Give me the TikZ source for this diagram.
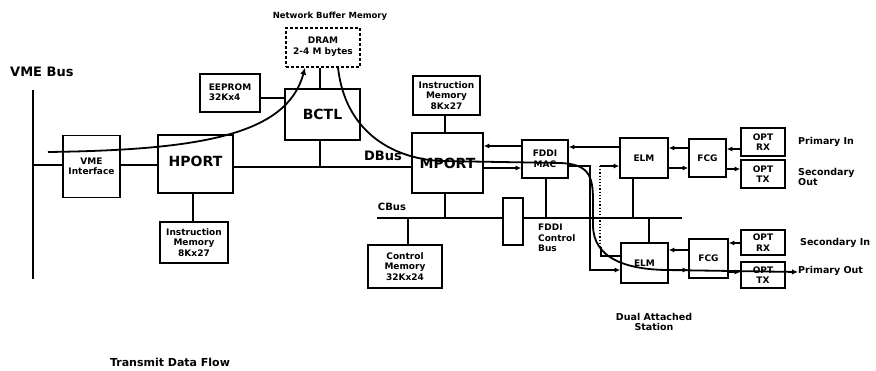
\documentclass[tikz,border=0pt]{standalone}
\usepackage{fontspec}
\setmainfont{DejaVu Sans}
\usetikzlibrary{arrows.meta}
\newcommand{\fs}[2]{\bfseries\fontsize{#1}{#2}\selectfont}
\tikzset{
  blk/.style={draw, line width=1.6pt, fill=white, inner sep=0pt, align=center, font=\fs{9}{10.5}},
  bigblk/.style={blk, font=\fs{14}{15}},
  lbl/.style={inner sep=0pt, align=left, font=\fs{9.5}{10.5}},
  ln/.style={line width=1.6pt},
  arr/.style={line width=1.6pt, -{Latex[length=5.5pt,width=5pt]}},
  flow/.style={line width=1.8pt},
}
\begin{document}
\begin{tikzpicture}[x=1pt,y=-1pt]
\useasboundingbox (0,0) rectangle (876,371);
% VME bus
\coordinate (vt) at (33,90);
\coordinate (vb) at (33,279);
\draw[ln] (vt) -- (vb);
\node[lbl, font=\fs{13}{14}, anchor=west] (vmebus) at (10,72) {VME Bus};
% blocks
\node[blk, minimum width=57pt, minimum height=62pt] (vme) at (91.5,166.5) {VME\\Interface};
\node[bigblk, minimum width=75pt, minimum height=58pt] (hport) at (195.5,164) {\raisebox{5pt}{HPORT}};
\node[bigblk, minimum width=75pt, minimum height=51pt] (bctl) at (322.5,114.5) {BCTL};
\node[blk, densely dashed, line width=1.2pt, minimum width=74pt, minimum height=39pt] (dram) at (323,47.5) {\raisebox{4pt}{\shortstack{DRAM\\[1pt]2-4 M bytes}}};
\node[lbl, font=\fs{8.5}{9}] (nbm) at (330,16) {Network Buffer Memory};
\node[blk, minimum width=60pt, minimum height=38pt] (eeprom) at (230,93) {\raisebox{1pt}{\shortstack[l]{EEPROM\\32Kx4}}};
\node[blk, minimum width=67pt, minimum height=39pt] (im1) at (446.5,95.5) {Instruction\\Memory\\8Kx27};
\node[bigblk, minimum width=71pt, minimum height=60pt] (mport) at (447.5,163) {MPORT};
\node[blk, minimum width=68pt, minimum height=41pt] (im2) at (194,242.5) {Instruction\\Memory\\8Kx27};
\node[blk, minimum width=74pt, minimum height=43pt] (cm) at (405,266.5) {Control\\Memory\\32Kx24};
\node[blk, minimum width=46pt, minimum height=38pt] (mac) at (545,159) {FDDI\\MAC};
\node[blk, minimum width=48pt, minimum height=40pt] (elm1) at (644,158) {ELM};
\node[blk, minimum width=47pt, minimum height=40pt] (elm2) at (644.5,263) {ELM};
\node[blk, minimum width=37pt, minimum height=38pt] (fcg1) at (707.5,158) {FCG};
\node[blk, minimum width=39pt, minimum height=39pt] (fcg2) at (708.5,258.5) {FCG};
\node[blk, minimum width=44pt, minimum height=28pt] (rx1) at (763,142) {OPT\\RX};
\node[blk, minimum width=44pt, minimum height=28pt] (tx1) at (763,174) {OPT\\TX};
\node[blk, minimum width=44pt, minimum height=25pt] (rx2) at (763,242.5) {OPT\\RX};
\node[blk, minimum width=44pt, minimum height=26pt] (tx2) at (763,275) {OPT\\TX};
% labels
\node[lbl, anchor=west] (pin) at (798,142) {Primary In};
\node[lbl, anchor=west] (sout) at (798,177) {Secondary\\Out};
\node[lbl, anchor=west] (sin) at (800,243) {Secondary In};
\node[lbl, anchor=west] (pout) at (798,271) {Primary Out};
\node[lbl, align=center] (das) at (654,322) {Dual Attached\\Station};
\node[lbl, font=\fs{11}{12}] (tdf) at (170,362) {Transmit Data Flow};
\node[lbl, font=\fs{13}{14}] (dbus) at (383,156) {DBus};
\node[lbl, font=\fs{10}{11}] (cbus) at (392,207) {CBus};
\node[lbl, anchor=north west, font=\fs{9}{10.5}] (fcb) at (538,224) {FDDI\\Control\\Bus};
% connections
\draw[ln] (33,165) -- (vme.west |- 0,165);
\draw[ln] (vme.east |- 0,165) -- (hport.west |- 0,165);
\draw[ln] (hport.east |- 0,167) -- (mport.west |- 0,167);
\draw[ln] (bctl.south -| 320,0) -- (320,167);
\draw[ln] (dram.south -| 320,0) -- (bctl.north -| 320,0);
\draw[ln] (eeprom.east |- 0,98) -- (bctl.west |- 0,98);
\draw[ln] (hport.south -| 193,0) -- (im2.north -| 193,0);
\draw[ln] (im1.south -| 445,0) -- (mport.north -| 445,0);
% CBus
\coordinate (cbl) at (377,218);
\coordinate (cbr) at (682,218);
\draw[ln] (cbl) -- (cbr);
\draw[ln] (mport.south -| 445,0) -- (445,218);
\draw[ln] (408,218) -- (cm.north -| 408,0);
\draw[ln] (mac.south -| 546,0) -- (546,218);
\draw[ln] (elm1.south -| 633,0) -- (633,218);
\draw[ln] (649,218) -- (elm2.north -| 649,0);
\node[blk, minimum width=20pt, minimum height=47pt] (fcbox) at (513,221.5) {};
% arrows top
\draw[arr] (mac.west |- 0,146) -- (mport.east |- 0,146);
\draw[arr] (mport.east |- 0,168) -- (mac.west |- 0,168);
\draw[arr] (elm1.west |- 0,147) -- (mac.east |- 0,147);
\draw[arr] (fcg1.west |- 0,148) -- (elm1.east |- 0,148);
\draw[arr] (elm1.east |- 0,168) -- (fcg1.west |- 0,168);
\draw[arr] (rx1.west |- 0,149) -- (fcg1.east |- 0,149);
\draw[arr] (fcg1.east |- 0,169) -- (tx1.west |- 0,169);
% arrows bottom
\draw[arr] (fcg2.west |- 0,250) -- (elm2.east |- 0,250);
\draw[arr] (elm2.east |- 0,270) -- (fcg2.west |- 0,270);
\draw[arr] (rx2.west |- 0,243) -- (fcg2.east |- 0,243);
\draw[arr] (fcg2.east |- 0,272) -- (tx2.west |- 0,272);
% MAC to lower ELM
\draw[arr] (mac.east |- 0,166) -- (590,166) -- (590,270) -- (elm2.west |- 0,270);
\draw[arr] (600,166) -- (elm1.west |- 0,166);
\draw[line width=1.2pt, dotted] (600,166) -- (600,248);
\draw[ln] (601,247) -- (601,256) -- (elm2.west |- 0,256);
% data flow curves
\draw[flow, -{Latex[length=7pt,width=6pt]}] (48,152) .. controls (200,150) and (287,135) .. (dram.south -| 305,0);
\draw[flow, -{Latex[length=6pt,width=5.5pt]}] (dram.south -| 338,0) .. controls (345,130) and (390,158) .. (440,161) -- (560,163) .. controls (588,164) and (593,175) .. (593,200) -- (593,225) .. controls (593,258) and (625,269) .. (665,270) -- (pout.west |- 0,272);
\end{tikzpicture}
\end{document}
